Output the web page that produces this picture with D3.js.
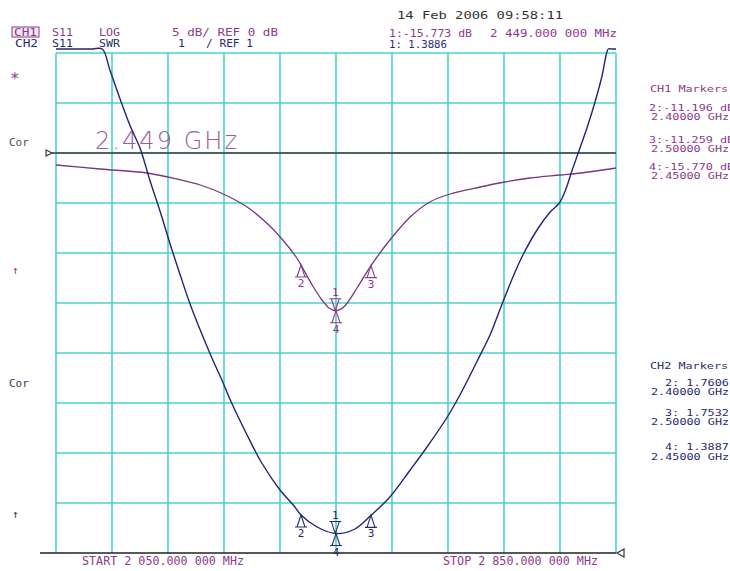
<!DOCTYPE html>
<html>
<head>
<meta charset="utf-8">
<script src="https://cdn.jsdelivr.net/npm/d3@7"></script>
<style>
  body { margin: 0; background: #fff; }
  svg { display: block; }
  text { font-family: "DejaVu Sans Mono", monospace; }
</style>
</head>
<body>
<svg id="chart" width="730" height="571"></svg>
<script>
// CH1: S11 LOG magnitude (dB) vs frequency (GHz)
var ch1Freq = [2.050, 2.113, 2.180, 2.223, 2.256, 2.289, 2.323, 2.351, 2.374, 2.394, 2.400,
               2.416, 2.430, 2.440, 2.450, 2.461, 2.480, 2.500, 2.527, 2.556, 2.584, 2.613,
               2.656, 2.691, 2.727, 2.770, 2.799, 2.850];
var ch1Db   = [-1.2, -1.6, -2.0, -2.6, -3.2, -4.1, -5.4, -7.0, -8.7, -10.5, -11.196,
               -13.2, -14.7, -15.5, -15.773, -15.4, -13.5, -11.259, -8.7, -6.4, -4.9, -4.1,
               -3.4, -2.9, -2.5, -2.2, -2.0, -1.5];

// CH2: S11 SWR vs frequency (GHz)
var ch2Freq = [2.050, 2.100, 2.116, 2.127, 2.141, 2.156, 2.170, 2.184, 2.199, 2.213, 2.227,
               2.241, 2.256, 2.274, 2.287, 2.299, 2.323, 2.344, 2.370, 2.389, 2.400, 2.423,
               2.450, 2.477, 2.500, 2.527, 2.556, 2.580, 2.609, 2.627, 2.651, 2.670, 2.684,
               2.701, 2.717, 2.739, 2.756, 2.769, 2.779, 2.786, 2.796, 2.809, 2.820, 2.830,
               2.836, 2.839, 2.845, 2.850];
var ch2Swr  = [13.0, 11.6, 11.08, 10.66, 10.1, 9.54, 9.1, 8.46, 7.82, 7.18, 6.58,
               6.0, 5.46, 4.86, 4.46, 4.06, 3.36, 2.8, 2.26, 1.96, 1.7606, 1.52,
               1.3886, 1.48, 1.7532, 2.12, 2.66, 3.12, 3.72, 4.16, 4.82, 5.36, 5.86,
               6.46, 6.96, 7.5, 7.82, 8.0, 8.3, 8.6, 9.0, 9.52, 10.02, 10.54,
               10.96, 11.08, 11.5, 12.0];

// markers
var markerIds = [1, 2, 3, 4];
var markerFreq = [2.449, 2.40, 2.50, 2.45];
var ch1MarkerDb = [-15.773, -11.196, -11.259, -15.770];
var ch2MarkerSwr = [1.3886, 1.7606, 1.7532, 1.3887];

var xDivs = d3.range(0, 11);
var yDivs = d3.range(0, 10);

var magenta = "#8c3a8c", navy = "#2a2a70", gridCol = "#48d2cd";

var svg = d3.select("#chart");

var x = d3.scaleLinear().domain([2.05, 2.85]).range([56, 616]);
var y1 = d3.scaleLinear().domain([-40, 10]).range([553, 53]);
var y2 = d3.scaleLinear().domain([1, 11.08]).range([553, 49]).clamp(true);

// grid
var g = svg.append("g");
g.selectAll(".vl").data(xDivs).enter().append("line")
  .attr("x1", function(d) { return x(2.05 + d * 0.08); })
  .attr("x2", function(d) { return x(2.05 + d * 0.08); })
  .attr("y1", y1(10)).attr("y2", y1(-40))
  .attr("stroke", gridCol).attr("stroke-width", 1.6);
g.selectAll(".hl").data(yDivs).enter().append("line")
  .attr("x1", x(2.05)).attr("x2", x(2.85))
  .attr("y1", function(d) { return y1(10 - d * 5); })
  .attr("y2", function(d) { return y1(10 - d * 5); })
  .attr("stroke", gridCol).attr("stroke-width", 1.6);

// CH1 reference line (0 dB) and CH2 reference line (SWR 1)
g.append("line").attr("x1", 50).attr("x2", x(2.85))
  .attr("y1", y1(0)).attr("y2", y1(0))
  .attr("stroke", "#3c3c3c").attr("stroke-width", 1.5);
g.append("path").attr("d", "M46," + (y1(0) - 3) + "L52," + y1(0) + "L46," + (y1(0) + 3) + "Z")
  .attr("fill", "#fff").attr("stroke", "#3c3c3c").attr("stroke-width", 1.2);
g.append("line").attr("x1", 40).attr("x2", x(2.85))
  .attr("y1", y2(1)).attr("y2", y2(1))
  .attr("stroke", "#222").attr("stroke-width", 1.5);
g.append("path").attr("d", "M624," + (y2(1) - 4) + "L617," + y2(1) + "L624," + (y2(1) + 4) + "Z")
  .attr("fill", "#fff").attr("stroke", "#333").attr("stroke-width", 1.2);

// big marker frequency annotation
svg.append("text").attr("x", 95).attr("y", 149)
  .attr("textLength", 142).attr("lengthAdjust", "spacing")
  .style("font-family", "DejaVu Sans").style("font-weight", 200)
  .style("font-size", "24px").attr("fill", "#9a5c9a").text("2.449 GHz");

// traces
var line1 = d3.line().x(function(d) { return x(d[0]); }).y(function(d) { return y1(d[1]); })
  .curve(d3.curveCatmullRom.alpha(0.5));
var line2 = d3.line().x(function(d) { return x(d[0]); }).y(function(d) { return y2(d[1]); })
  .curve(d3.curveCatmullRom.alpha(0.5));

svg.append("path").datum(d3.zip(ch1Freq, ch1Db)).attr("d", line1)
  .attr("fill", "none").attr("stroke", "#7b3582").attr("stroke-width", 1.3);
svg.append("path").datum(d3.zip(ch2Freq, ch2Swr)).attr("d", line2)
  .attr("fill", "none").attr("stroke", "#23237a").attr("stroke-width", 1.4);

// markers
function drawMarkers(vals, ys, col) {
  markerIds.forEach(function(id, i) {
    var px = x(markerFreq[i]), py = ys(vals[i]);
    var up = id !== 1;
    var dy = up ? 12 : -12;
    svg.append("path")
      .attr("d", "M" + px + "," + py + "L" + (px - 4) + "," + (py + dy) + "L" + (px + 4) + "," + (py + dy) + "Z"
        + "M" + (px - 6) + "," + (py + dy) + "L" + (px + 6) + "," + (py + dy))
      .attr("fill", "none").attr("stroke", col).attr("stroke-width", 1.1);
    svg.append("text").attr("x", px).attr("y", up ? py + 22 : py - 15)
      .attr("text-anchor", "middle").style("font-size", "11px").attr("fill", col).text(id);
  });
}
drawMarkers(ch1MarkerDb, y1, magenta);
drawMarkers(ch2MarkerSwr, y2, navy);

// text helper
function txt(tx, ty, s, col, len, size) {
  var t = svg.append("text").attr("x", tx).attr("y", ty).attr("fill", col)
    .style("font-size", (size || 11.7) + "px").text(s);
  if (len) t.attr("textLength", len).attr("lengthAdjust", "spacingAndGlyphs");
  return t;
}

// header
svg.append("rect").attr("x", 12).attr("y", 27).attr("width", 27).attr("height", 10)
  .attr("fill", "#f3e6f3").attr("stroke", magenta).attr("stroke-width", 1);
txt(14, 36, "CH1", magenta, 23, 10);
txt(52, 36, "S11", magenta, 21, 10);
txt(99, 36, "LOG", magenta, 21, 10);
txt(172, 36, "5 dB/ REF 0 dB", magenta, 106, 10);
txt(15, 47, "CH2", navy, 23, 10);
txt(52, 47, "S11", navy, 21, 10);
txt(99, 47, "SWR", navy, 21, 10);
txt(178, 47, "1", navy, 7, 10);
txt(206, 47, "/ REF 1", navy, 47, 10);

txt(397, 19, "14 Feb 2006  09:58:11", "#333", 166, 11);
txt(389, 37, "1:-15.773 dB", magenta, 83, 10);
txt(490, 37, "2 449.000 000 MHz", magenta, 127, 10);
txt(389, 48, "1: 1.3886", navy, 58, 10);

// left annotations
txt(10, 84, "*", magenta, null, 16);
txt(9, 146, "Cor", "#5a4a5a", null, 11);
txt(12, 274, "\u2191", magenta, null, 11);
txt(9, 387, "Cor", "#3a3a55", null, 11);
txt(12, 518, "\u2191", navy, null, 11);

// bottom
txt(82, 565, "START 2 050.000 000 MHz", magenta, 162);
txt(443, 565, "STOP 2 850.000 000 MHz", magenta, 155);

// marker tables
var ch1Lines = [["CH1 Markers", 92, 650], ["2:-11.196 dB", 111, 649], ["2.40000 GHz", 120, 651],
  ["3:-11.259 dB", 143, 649], ["2.50000 GHz", 152, 651], ["4:-15.770 dB", 170, 649], ["2.45000 GHz", 179, 651]];
ch1Lines.forEach(function(r) { txt(r[2], r[1], r[0], magenta, r[0].length * 7.1, 8.5); });
var ch2Lines = [["CH2 Markers", 369, 650], ["2: 1.7606", 386, 665], ["2.40000 GHz", 395, 651],
  ["3: 1.7532", 416, 665], ["2.50000 GHz", 425, 651], ["4: 1.3887", 450, 665], ["2.45000 GHz", 459.5, 651]];
ch2Lines.forEach(function(r) { txt(r[2], r[1], r[0], navy, r[0].length * 7.1, 8.5); });
</script>
</body>
</html>
